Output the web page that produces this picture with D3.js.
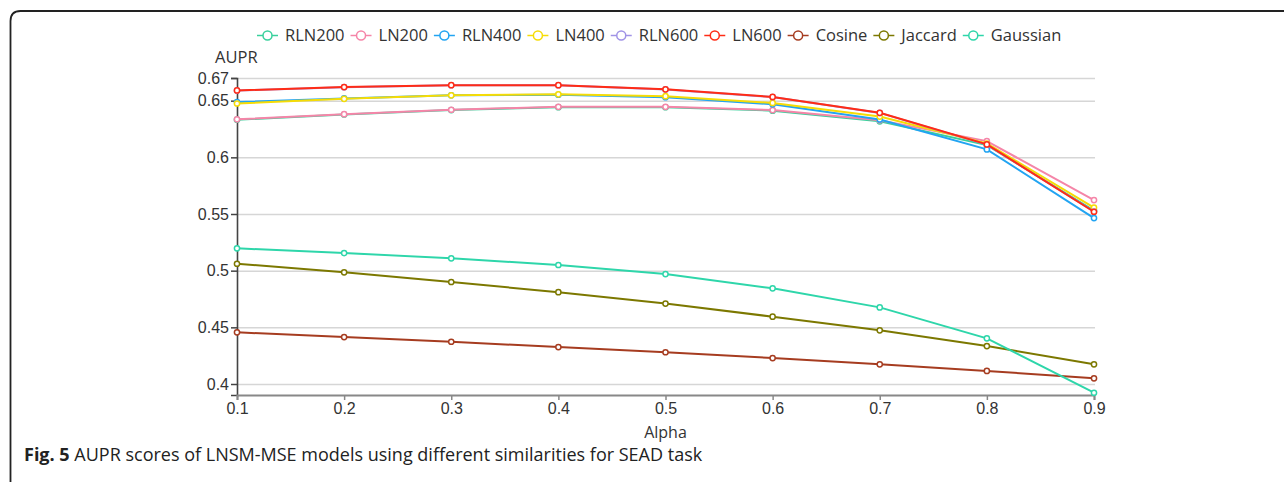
<!DOCTYPE html>
<html>
<head>
<meta charset="utf-8">
<script src="https://cdn.jsdelivr.net/npm/d3@7"></script>
<style>
  body { margin: 0; background: #fff; }
  svg { display: block; font-family: "Open Sans", "Noto Sans", sans-serif; }
  .tick text { font-size: 16px; fill: #333; }
  .grid line { stroke: #d6d6d6; stroke-width: 1.5; }
  .grid path { display: none; }
</style>
</head>
<body>
<div id="container"></div>
<script>
const alphas = [0.1, 0.2, 0.3, 0.4, 0.5, 0.6, 0.7, 0.8, 0.9];
const yTicks = [0.4, 0.45, 0.5, 0.55, 0.6, 0.65, 0.67];

const seriesNames = ['RLN200', 'LN200', 'RLN400', 'LN400', 'RLN600', 'LN600', 'Cosine', 'Jaccard', 'Gaussian'];
const seriesColors = ['#38d09c', '#f585a8', '#22a4f2', '#f6dc06', '#a093e6', '#ff2c16', '#a63c20', '#7c7800', '#2ed6aa'];

const rln200 = [0.6332, 0.6378, 0.6417, 0.6443, 0.6442, 0.6412, 0.6318, 0.6108, 0.5530];
const ln200 = [0.6335, 0.6381, 0.6420, 0.6446, 0.6446, 0.6417, 0.6328, 0.6143, 0.5623];
const rln400 = [0.6488, 0.6520, 0.6548, 0.6552, 0.6530, 0.6468, 0.6334, 0.6070, 0.5464];
const ln400 = [0.6475, 0.6516, 0.6547, 0.6556, 0.6540, 0.6480, 0.6360, 0.6122, 0.5557];
const rln600 = [0.6589, 0.6619, 0.6636, 0.6636, 0.6599, 0.6532, 0.6392, 0.6112, 0.5521];
const ln600 = [0.6590, 0.6620, 0.6637, 0.6637, 0.6600, 0.6533, 0.6393, 0.6114, 0.5520];
const cosine = [0.4456, 0.4414, 0.4373, 0.4326, 0.4280, 0.4229, 0.4174, 0.4115, 0.4050];
const jaccard = [0.5061, 0.4985, 0.4900, 0.4810, 0.4710, 0.4594, 0.4474, 0.4335, 0.4174];
const gaussian = [0.5197, 0.5155, 0.5109, 0.5050, 0.4970, 0.4844, 0.4676, 0.4403, 0.3923];

const seriesValues = [rln200, ln200, rln400, ln400, rln600, ln600, cosine, jaccard, gaussian];

const W = 1284, H = 485;
const svg = d3.select('#container').append('svg')
    .attr('width', W)
    .attr('height', H);

// figure frame (top + left only, rounded corner)
svg.append('path')
    .attr('d', 'M10.5,482 L10.5,21 Q10.5,11 20.5,11 L1284,11')
    .attr('fill', 'none')
    .attr('stroke', '#222')
    .attr('stroke-width', 1.8);

const plotLeft = 237, plotRight = 1094, plotTop = 78, plotBottom = 395;

const xScale = d3.scaleLinear()
    .domain([0.1, 0.9])
    .range([plotLeft, plotRight]);

const yScale = d3.scaleLinear()
    .domain([0.4 - 11 / 1133.3, 0.67])
    .range([plotBottom, plotTop]);

// grid
svg.append('g')
    .attr('class', 'grid')
    .attr('transform', `translate(${plotLeft},0)`)
    .call(d3.axisLeft(yScale)
        .tickValues(yTicks)
        .tickSize(-(plotRight - plotLeft + 1))
        .tickFormat(''));

// y axis
const yAxis = svg.append('g')
    .attr('transform', `translate(${plotLeft},0)`)
    .call(d3.axisLeft(yScale)
        .tickValues(yTicks)
        .tickSize(6)
        .tickPadding(2)
        .tickFormat(d3.format('')));
yAxis.select('.domain').attr('stroke', '#444').attr('stroke-width', 1.6);
yAxis.selectAll('.tick line').attr('stroke', '#444').attr('stroke-width', 1.5);

// x axis
const xAxis = svg.append('g')
    .attr('transform', `translate(0,${plotBottom})`)
    .call(d3.axisBottom(xScale)
        .tickValues(alphas)
        .tickSize(5)
        .tickPadding(3)
        .tickFormat(d3.format('')));
xAxis.select('.domain').attr('stroke', '#888').attr('stroke-width', 2);
xAxis.selectAll('.tick line').attr('stroke', '#888').attr('stroke-width', 1.5);

svg.append('text')
    .attr('x', 215)
    .attr('y', 63)
    .attr('font-size', 16.5)
    .attr('fill', '#333')
    .text('AUPR');

svg.append('text')
    .attr('x', (plotLeft + plotRight) / 2)
    .attr('y', 438)
    .attr('text-anchor', 'middle')
    .attr('font-size', 16)
    .attr('fill', '#333')
    .text('Alpha');

// series
const line = d3.line()
    .x((d, i) => xScale(alphas[i]))
    .y(d => yScale(d));

seriesValues.forEach((vals, k) => {
    const g = svg.append('g');
    g.append('path')
        .datum(vals)
        .attr('d', line)
        .attr('fill', 'none')
        .attr('stroke', seriesColors[k])
        .attr('stroke-width', 2);
    g.selectAll('circle')
        .data(vals)
        .enter()
        .append('circle')
        .attr('cx', (d, i) => xScale(alphas[i]))
        .attr('cy', d => yScale(d))
        .attr('r', 2.6)
        .attr('fill', '#fff')
        .attr('stroke', seriesColors[k])
        .attr('stroke-width', 1.5);
});

// legend
const legend = svg.append('g');
let lx = 257;
seriesNames.forEach((name, k) => {
    const item = legend.append('g').attr('transform', `translate(${lx},35.5)`);
    item.append('line')
        .attr('x1', 0).attr('x2', 21)
        .attr('stroke', seriesColors[k])
        .attr('stroke-width', 1.5);
    item.append('circle')
        .attr('cx', 10.5).attr('r', 4.5)
        .attr('fill', '#fff')
        .attr('stroke', seriesColors[k])
        .attr('stroke-width', 1.5);
    const t = item.append('text')
        .attr('x', 28)
        .attr('y', 5.5)
        .attr('font-size', 16.5)
        .attr('fill', '#333')
        .text(name);
    lx += 28 + t.node().getComputedTextLength() + 6;
});

// caption
const cap = svg.append('text')
    .attr('x', 24)
    .attr('y', 461)
    .attr('font-size', 18)
    .attr('fill', '#222');
cap.append('tspan').attr('font-weight', 'bold').text('Fig. 5');
cap.append('tspan').text(' AUPR scores of LNSM-MSE models using different similarities for SEAD task');
</script>
</body>
</html>
